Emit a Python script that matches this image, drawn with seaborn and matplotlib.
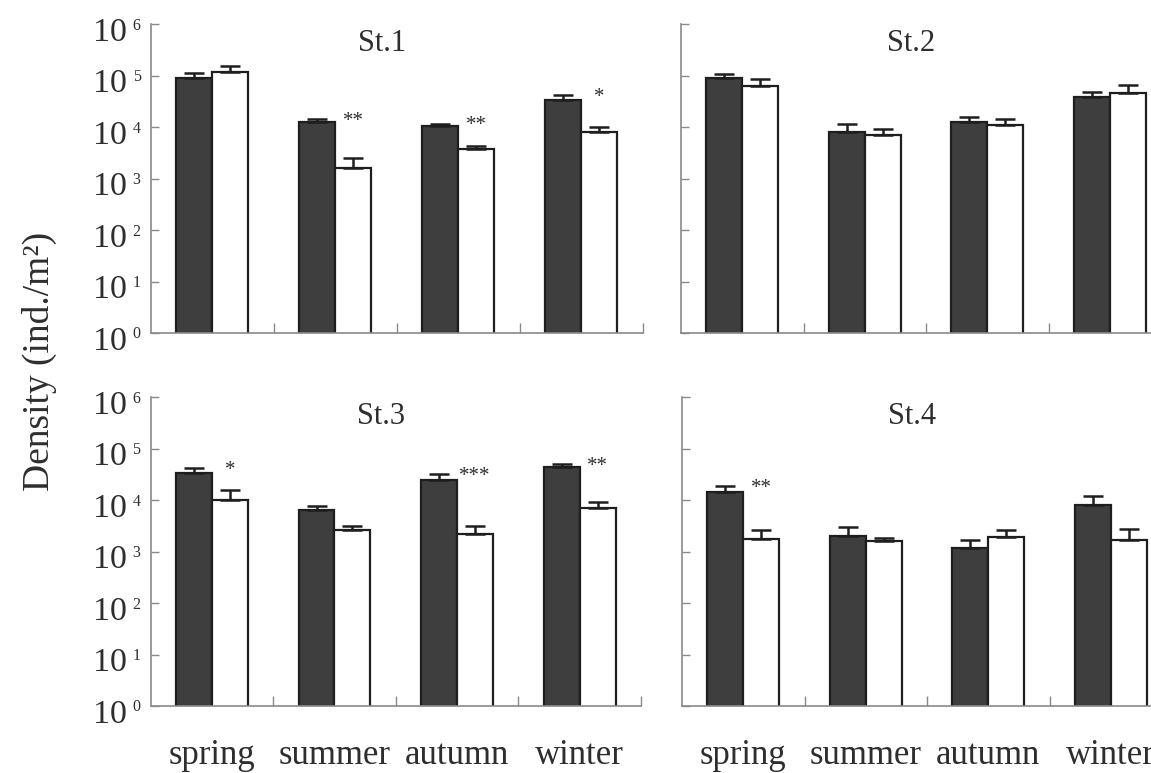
import numpy as np
import pandas as pd
import matplotlib
matplotlib.use("Agg")
import matplotlib.pyplot as plt
from matplotlib.ticker import FixedLocator, NullLocator
from matplotlib.transforms import blended_transform_factory
import seaborn as sns

# ---- data -------------------------------------------------------------
seasons = ["spring", "summer", "autumn", "winter"]
stations = ["St.1", "St.2", "St.3", "St.4"]
treatments = ["filled", "open"]
decades = [0, 1, 2, 3, 4, 5, 6]

# mean density (ind./m2) and upper standard error per season
st1_filled = [92000, 12500, 10400, 34500]
st1_filled_se = [21000, 1800, 1400, 7900]
st1_open = [117000, 1600, 3740, 8100]
st1_open_se = [38000, 900, 590, 2200]
st1_marks = ["", "**", "**", "*"]

st2_filled = [89400, 7900, 12500, 39400]
st2_filled_se = [18600, 3400, 3100, 9100]
st2_open = [64500, 7100, 10900, 46300]
st2_open_se = [23700, 2170, 3600, 20000]
st2_marks = ["", "", "", ""]

st3_filled = [34300, 6450, 24400, 43600]
st3_filled_se = [7400, 1370, 7500, 7600]
st3_open = [10100, 2640, 2200, 6950]
st3_open_se = [5700, 510, 1000, 2280]
st3_marks = ["*", "", "***", "**"]

st4_filled = [14600, 2010, 1190, 8180]
st4_filled_se = [4000, 960, 520, 3720]
st4_open = [1760, 1610, 1900, 1680]
st4_open_se = [840, 260, 700, 1110]
st4_marks = ["**", "", "", ""]

panels = [
    ("St.1", st1_filled, st1_filled_se, st1_open, st1_open_se, st1_marks),
    ("St.2", st2_filled, st2_filled_se, st2_open, st2_open_se, st2_marks),
    ("St.3", st3_filled, st3_filled_se, st3_open, st3_open_se, st3_marks),
    ("St.4", st4_filled, st4_filled_se, st4_open, st4_open_se, st4_marks),
]

# ---- style ------------------------------------------------------------
sns.set_theme(style="ticks")
plt.rcParams["font.family"] = ["Liberation Serif", "DejaVu Serif"]
plt.rcParams["axes.facecolor"] = "white"

DARK = "#3e3e3e"
EDGE = "#1e1e1e"
AXIS = "#8a8a8a"
TEXT = "#2e2e2e"

W, H = 1151, 773
fig = plt.figure(figsize=(W / 100, H / 100), dpi=100)
fig.patch.set_facecolor("white")


def box(left, right, top, bottom):
    return [left / W, 1 - bottom / H, (right - left) / W, (bottom - top) / H]


boxes = {
    "St.1": box(150.7, 643.0, 24.3, 333.0),
    "St.2": box(681.0, 1171.0, 24.3, 333.0),
    "St.3": box(150.5, 641.0, 397.3, 706.0),
    "St.4": box(682.0, 1172.0, 397.3, 706.0),
}
left_col = {"St.1", "St.3"}
bottom_row = {"St.3", "St.4"}

for name, filled, filled_se, opn, opn_se, marks in panels:
    ax = fig.add_axes(boxes[name])
    ax.set_yscale("log")

    df = pd.DataFrame({
        "season": seasons * 2,
        "treatment": ["filled"] * len(seasons) + ["open"] * len(seasons),
        "density": list(filled) + list(opn),
    })
    sns.barplot(
        data=df, x="season", y="density", hue="treatment",
        order=seasons, hue_order=treatments,
        palette={"filled": DARK, "open": "white"}, saturation=1,
        width=0.585, gap=0, errorbar=None,
        edgecolor=EDGE, linewidth=1.6, legend=False, ax=ax,
    )

    # one-sided error bars on top of each bar
    centers = {}
    for cont, means, se, key in zip(ax.containers, [filled, opn],
                                     [filled_se, opn_se], treatments):
        xs = [p.get_x() + p.get_width() / 2 for p in cont]
        centers[key] = xs
        ax.errorbar(xs, means, yerr=[np.zeros(len(means)), se], fmt="none",
                    ecolor=EDGE, elinewidth=1.8, capsize=7, capthick=1.8,
                    zorder=3)

    # significance marks beside the filled bar's error cap
    for i, m in enumerate(marks):
        if m:
            ax.annotate(m, xy=(centers["open"][i], filled[i] + filled_se[i]),
                        xytext=(0, -5), textcoords="offset points",
                        ha="center", va="baseline", fontsize=15, color=TEXT)

    ax.set_xlim(-0.5, len(seasons) - 0.5)
    ax.set_ylim(10 ** decades[0], 10 ** decades[-1])
    ax.set_xlabel("")
    ax.set_ylabel("")

    sns.despine(ax=ax)
    for side in ("left", "bottom"):
        ax.spines[side].set_color(AXIS)
        ax.spines[side].set_linewidth(1.2)

    ax.yaxis.set_major_locator(FixedLocator([10.0 ** d for d in decades]))
    ax.yaxis.set_minor_locator(NullLocator())
    ax.tick_params(axis="y", which="major", direction="in", length=6,
                   width=1.0, color=AXIS, labelleft=False)

    ax.xaxis.set_minor_locator(FixedLocator(np.arange(len(seasons)) + 0.5))
    ax.tick_params(axis="x", which="minor", direction="in", length=7.5,
                   width=1.0, color=AXIS)
    ax.tick_params(axis="x", which="major", length=0, pad=23.5,
                   labelsize=25, labelcolor=TEXT,
                   labelbottom=name in bottom_row)

    # power-of-ten labels on the left column
    if name in left_col:
        trans = blended_transform_factory(ax.transAxes, ax.transData)
        for d in decades:
            ax.annotate("10", xy=(0, 10.0 ** d), xycoords=trans,
                        xytext=(-17, -12), textcoords="offset points",
                        ha="right", va="baseline", fontsize=24.5,
                        color=TEXT, annotation_clip=False)
            ax.annotate(str(d), xy=(0, 10.0 ** d), xycoords=trans,
                        xytext=(-13, -3.9), textcoords="offset points",
                        ha="left", va="baseline", fontsize=11.5,
                        color=TEXT, annotation_clip=False)

    ax.text(0.47, 0.912, name, transform=ax.transAxes, ha="center",
            va="baseline", fontsize=22, color=TEXT)

fig.text(39 / W, 1 - 361.5 / H, "Density (ind./m²)", rotation=90,
         ha="center", va="center", fontsize=27, color=TEXT)

fig.savefig("out.png", dpi=100, facecolor="white")
